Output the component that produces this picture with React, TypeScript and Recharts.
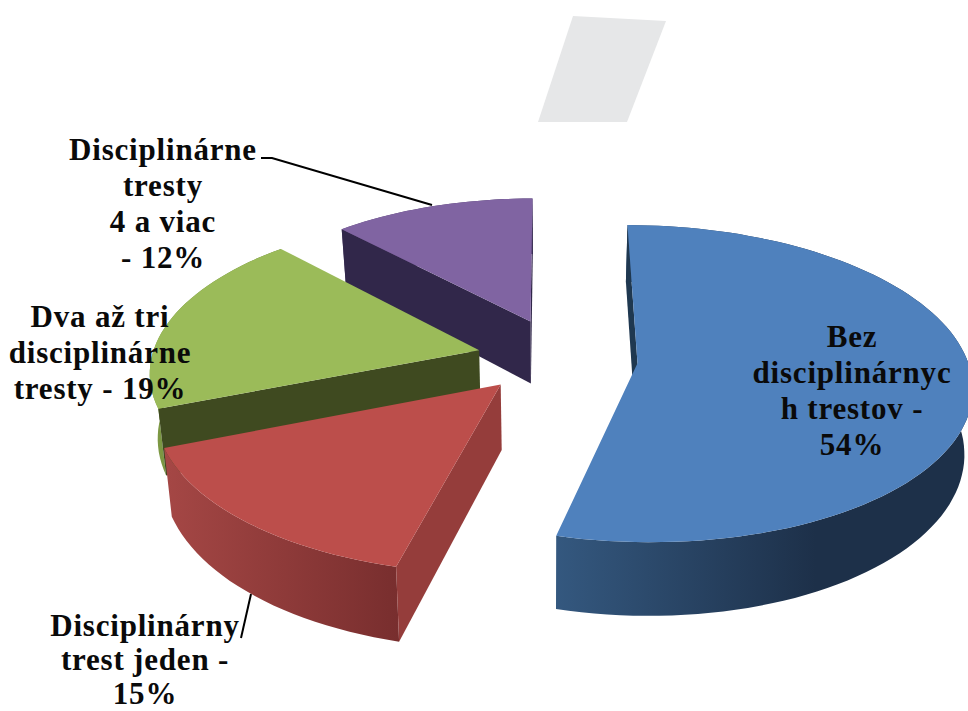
import { Pie, PieChart } from "recharts";

// drawn back to front, so the list runs counter-clockwise from 12 o'clock
const categories = [
  "Disciplinárne tresty 4 a viac",
  "Dva až tri disciplinárne tresty",
  "Disciplinárny trest jeden",
  "Bez disciplinárnych trestov",
];
const values = [12, 19, 15, 54];
const labelLines = [
  ["Disciplinárne", "tresty", "4 a viac", "- 12%"],
  ["Dva až tri", "disciplinárne", "tresty - 19%"],
  ["Disciplinárny", "trest jeden -", "15%"],
  ["Bez", "disciplinárnyc", "h trestov -", "54%"],
];

const topColors = ["#8064a2", "#9bbb59", "#bc4e4b", "#4f81bd"];
const cutColors = ["#31274a", "#3f4a20", "#953d3b", "#1f3850"];
const rimLeft = ["#5a4774", "#7e9a44", "#a54745", "#34587f"];
const rimRight = ["#3f3060", "#5f7733", "#782e2e", "#1d3049"];
const explode = [60, 69, 67, 88];
const nudgeX = [3, -3, -3, 1];
const nudgeY = [-29, -6, 1, -4];
const sizeScale = [0.93, 0.98, 1, 0.985];

const labelCenterX = [163, 100, 145, 852];
const labelFirstBaseline = [160, 327, 636, 347];
const labelStep = [36, 36, 34, 36];

const CX = 549;
const CY = 360;
const RADIUS = 335;
const TILT = 0.47;
const PERSPECTIVE = 0.13;
const DEPTH = 64;

const rows = categories.map((name, i) => ({ name, value: values[i] }));

function project(x: number, y: number, z: number) {
  const s = 1 / (1 - (PERSPECTIVE * y) / RADIUS);
  return [CX + x * s * (1 - 0.02 * z), CY + TILT * y * s + DEPTH * z * s];
}

function pathOf(points: number[][]) {
  return "M" + points.map((p) => `${p[0].toFixed(1)},${p[1].toFixed(1)}`).join("L") + "Z";
}

/** One exploded 3D wedge, built from the angles the Pie hands over. */
function Wedge(props: any) {
  const { outerRadius, startAngle, endAngle, midAngle, name } = props;
  const i = categories.indexOf(name ?? props.payload?.name);
  const rad = (d: number) => (d * Math.PI) / 180;
  const ox = explode[i] * Math.cos(rad(midAngle)) + nudgeX[i];
  const oy = -explode[i] * Math.sin(rad(midAngle)) + nudgeY[i];
  const r = outerRadius * sizeScale[i];
  const arc: number[][] = [];
  const steps = Math.max(8, Math.round(Math.abs(endAngle - startAngle) / 2));
  for (let n = 0; n <= steps; n++) {
    const a = rad(startAngle + ((endAngle - startAngle) * n) / steps);
    arc.push([ox + r * Math.cos(a), oy - r * Math.sin(a)]);
  }
  const top = arc.map((p) => project(p[0], p[1], 0));
  const bottom = arc.map((p) => project(p[0], p[1], 1));
  const apexTop = project(ox, oy, 0);
  const apexBottom = project(ox, oy, 1);
  const last = arc.length - 1;
  const xs = top.concat(bottom).map((p) => p[0]);
  const gradId = `rim-${i}`;
  // a cut face only shows when the wall hangs outside the top surface
  const showStart = top[0][0] > apexTop[0];
  const showEnd = top[last][0] < apexTop[0];
  return (
    <g>
      <defs>
        <linearGradient
          id={gradId}
          gradientUnits="userSpaceOnUse"
          x1={Math.min(...xs)}
          x2={i === 3 ? Math.min(...xs) + 260 : Math.max(...xs)}
          y1={0}
          y2={0}
        >
          <stop offset="0%" stopColor={rimLeft[i]} />
          <stop offset="100%" stopColor={rimRight[i]} />
        </linearGradient>
      </defs>
      <path d={pathOf(top.concat(bottom.slice().reverse()))} fill={`url(#${gradId})`} />
      {showStart ? <path d={pathOf([apexTop, top[0], bottom[0], apexBottom])} fill={cutColors[i]} /> : null}
      {showEnd ? <path d={pathOf([apexTop, top[last], bottom[last], apexBottom])} fill={cutColors[i]} /> : null}
      <path d={pathOf([apexTop, ...top])} fill={topColors[i]} />
    </g>
  );
}

function SliceLabel(props: any) {
  const i = props.index;
  return (
    <g>
      {i === 0 ? <polyline points="261,158 272,158 432,205" fill="none" stroke="#000" strokeWidth={2} /> : null}
      {i === 2 ? <line x1={251} y1={594} x2={241} y2={638} stroke="#000" strokeWidth={2} /> : null}
      <text
        textAnchor="middle"
        fontFamily="'Liberation Serif', serif"
        fontWeight="bold"
        fontSize={31}
        letterSpacing={0.8}
        fill="#0a0a0a"
      >
        {labelLines[i].map((line, n) => (
          <tspan key={n} x={labelCenterX[i]} y={labelFirstBaseline[i] + n * labelStep[i]}>
            {line}
          </tspan>
        ))}
      </text>
    </g>
  );
}

export default function App() {
  return (
    <div style={{ position: "absolute", left: 0, top: 0, width: 968, height: 711, background: "#fff", overflow: "hidden" }}>
      <PieChart width={968} height={711} margin={{ top: 0, right: 0, bottom: 0, left: 0 }}>
        <polygon points="573,16 666,21 627,122 538,122" fill="#e6e7e8" />
        <Pie
          data={rows}
          dataKey="value"
          nameKey="name"
          cx={CX}
          cy={CY}
          innerRadius={0}
          outerRadius={RADIUS}
          startAngle={90}
          endAngle={450}
          paddingAngle={0}
          stroke="none"
          shape={Wedge}
          activeShape={Wedge}
          inactiveShape={Wedge}
          label={SliceLabel}
          labelLine={false}
          isAnimationActive={false}
        />
      </PieChart>
    </div>
  );
}
